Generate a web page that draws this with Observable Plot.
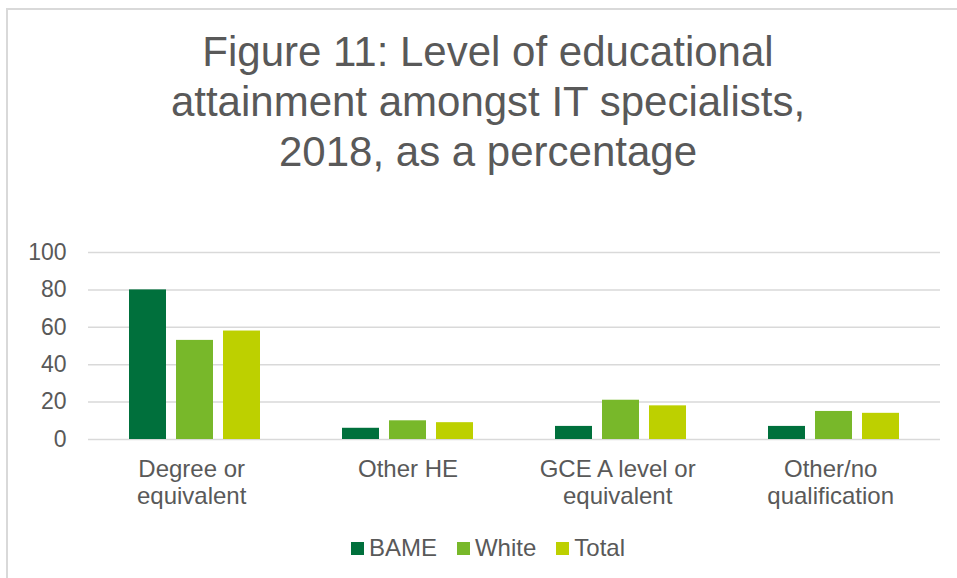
<!DOCTYPE html>
<html>
<head>
<meta charset="utf-8">
<script src="https://cdn.jsdelivr.net/npm/d3@7"></script>
<script src="https://cdn.jsdelivr.net/npm/@observablehq/plot@0.6"></script>
<style>
  html, body { margin: 0; padding: 0; background: #fff; }
  body { width: 957px; height: 578px; overflow: hidden; position: relative; font-family: "Liberation Sans", Arial, sans-serif; color: #595959; }
  #frame { position: absolute; left: 6px; top: 8px; width: 980px; height: 600px; border-left: 2px solid #d9d9d9; border-top: 2px solid #d9d9d9; box-sizing: border-box; }
  #title { position: absolute; left: 6px; width: 964px; top: 27px; text-align: center; font-size: 42px; line-height: 50px; color: #595959; }
  #chart { position: absolute; left: 0; top: 230px; }
  #legend { position: absolute; left: 6px; width: 964px; top: 534px; display: flex; justify-content: center; align-items: center; font-size: 24px; color: #595959; }
  .item { display: flex; align-items: center; margin: 0 10px; }
  .sw { width: 13px; height: 13px; margin-right: 5px; }
</style>
</head>
<body>
<div id="frame"></div>
<div id="title">Figure 11: Level of educational<br>attainment amongst IT specialists,<br>2018, as a percentage</div>
<div id="chart"></div>
<div id="legend"></div>
<script>
const categories = ["Degree or equivalent", "Other HE", "GCE A level or equivalent", "Other/no qualification"];
const categoryLabels = ["Degree or\u00a0\nequivalent\u00a0", "Other HE", "GCE A level or\u00a0\nequivalent\u00a0", "Other/no\u00a0\nqualification\u00a0"];
const series = ["BAME", "White", "Total"];
const bame = [80, 6, 7, 7];
const white = [53, 10, 21, 15];
const total = [58, 9, 18, 14];
const colors = ["#00703c", "#78b82a", "#bdd000"];
const yTicks = [0, 20, 40, 60, 80, 100];

const valuesBySeries = [bame, white, total];
const data = [];
categories.forEach((c, i) => {
  series.forEach((s, j) => data.push({category: c, series: s, value: valuesBySeries[j][i]}));
});
const labelOf = new Map(categories.map((c, i) => [c, categoryLabels[i]]));

const chart = Plot.plot({
  width: 957,
  height: 290,
  marginLeft: 87,
  marginRight: 17,
  marginTop: 22,
  marginBottom: 81,
  style: {fontFamily: "'Liberation Sans', Arial, sans-serif", color: "#595959", background: "transparent"},
  fx: {domain: categories, padding: 0, label: null},
  x: {domain: series, paddingInner: 0.213, paddingOuter: 0.872, axis: null},
  y: {domain: [0, 100], label: null},
  color: {domain: series, range: colors},
  marks: [
    Plot.ruleY(yTicks, {stroke: "#d9d9d9", strokeWidth: 1.5, facetAnchor: null}),
    Plot.barY(data, {fx: "category", x: "series", y: "value", fill: "series", insetLeft: 0, insetRight: 0}),
    Plot.axisY(yTicks, {tickSize: 0, tickPadding: 22, fontSize: 23, fill: "#595959", label: null}),
    Plot.axisFx({anchor: "bottom", tickSize: 0, tickPadding: 19, fontSize: 24, lineHeight: 1.1, fill: "#595959", label: null, tickFormat: d => labelOf.get(d)})
  ]
});
document.getElementById("chart").appendChild(chart);

const legend = document.getElementById("legend");
series.forEach((s, j) => {
  const item = document.createElement("div");
  item.className = "item";
  const sw = document.createElement("div");
  sw.className = "sw";
  sw.style.background = colors[j];
  const t = document.createElement("span");
  t.textContent = s;
  item.appendChild(sw);
  item.appendChild(t);
  legend.appendChild(item);
});
</script>
</body>
</html>
